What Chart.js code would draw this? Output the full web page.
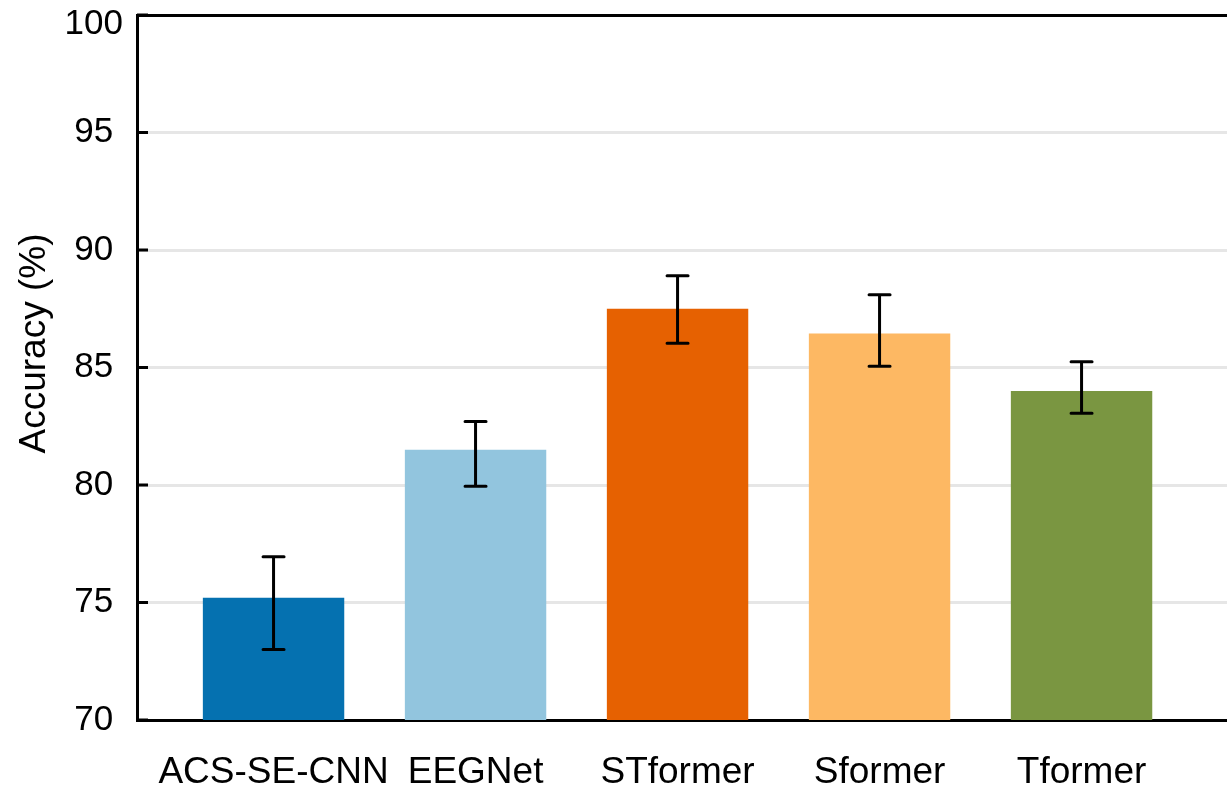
<!DOCTYPE html>
<html>
<head>
<meta charset="utf-8">
<script src="https://cdn.jsdelivr.net/npm/chart.js@4/dist/chart.umd.min.js"></script>
<style>
  html, body { margin: 0; padding: 0; background: #fff; }
  #wrap { width: 1227px; height: 792px; }
</style>
</head>
<body>
<div id="wrap"><canvas id="c" width="1227" height="792"></canvas></div>
<script>
// Model names along the x axis
const categories = ['ACS-SE-CNN', 'EEGNet', 'STformer', 'Sformer', 'Tformer'];
// Mean accuracy (%) per model
const accuracy = [75.2, 81.5, 87.5, 86.45, 84.0];
// Error bar ends (%)
const errLow  = [73.0, 79.95, 86.03, 85.05, 83.05];
const errHigh = [76.95, 82.7, 88.9, 88.1, 85.25];
// Bar fills
const barColors = ['#0571b0', '#92c5de', '#e66101', '#fdb863', '#7a9641'];
// Y axis tick values
const yTicks = [70, 75, 80, 85, 90, 95, 100];
const yTitle = 'Accuracy (%)';

const FONT = 'Liberation Sans, Arial, Helvetica, sans-serif';
const Y_MAX = yTicks[yTicks.length - 1];

// Error bars with flat caps, drawn on top of the bars
const errorBars = {
  id: 'errorBars',
  afterDatasetsDraw(chart) {
    const { ctx, scales: { x, y } } = chart;
    ctx.save();
    ctx.strokeStyle = '#000';
    ctx.lineWidth = 3;
    ctx.lineCap = 'round';
    const cap = 10.5;
    categories.forEach((_, i) => {
      const px = x.getPixelForValue(i + 1);
      const lo = y.getPixelForValue(errLow[i]);
      const hi = y.getPixelForValue(errHigh[i]);
      ctx.beginPath();
      ctx.moveTo(px, lo); ctx.lineTo(px, hi);
      ctx.moveTo(px - cap, lo); ctx.lineTo(px + cap, lo);
      ctx.moveTo(px - cap, hi); ctx.lineTo(px + cap, hi);
      ctx.stroke();
    });
    ctx.restore();
  }
};

// Inward tick marks on the y axis, plus the rotated axis title
const yAxisDecor = {
  id: 'yAxisDecor',
  afterDraw(chart) {
    const { ctx, chartArea, scales: { y } } = chart;
    ctx.save();
    ctx.strokeStyle = '#000';
    ctx.lineWidth = 3;
    yTicks.forEach(v => {
      const py = y.getPixelForValue(v);
      ctx.beginPath();
      ctx.moveTo(chartArea.left, py);
      ctx.lineTo(chartArea.left + 11, py);
      ctx.stroke();
    });
    ctx.translate(34.5, (chartArea.top + chartArea.bottom) / 2 - 24);
    ctx.rotate(-Math.PI / 2);
    ctx.fillStyle = '#000';
    ctx.font = '37px ' + FONT;
    ctx.textAlign = 'center';
    ctx.textBaseline = 'middle';
    ctx.fillText(yTitle, 0, 0);
    ctx.restore();
  }
};

new Chart(document.getElementById('c'), {
  type: 'bar',
  data: {
    datasets: [{
      data: categories.map((_, i) => ({ x: i + 1, y: accuracy[i] })),
      backgroundColor: barColors,
      borderWidth: 0,
      barPercentage: 0.7,
      categoryPercentage: 1.0
    }]
  },
  options: {
    responsive: false,
    animation: false,
    devicePixelRatio: 1,
    layout: { padding: { top: 15, left: 0, right: 0, bottom: 0 } },
    plugins: { legend: { display: false }, tooltip: { enabled: false } },
    scales: {
      x: {
        type: 'linear',
        offset: false,
        min: 0.324,
        max: 5.72,
        afterBuildTicks(scale) {
          scale.ticks = categories.map((_, i) => ({ value: i + 1 }));
        },
        afterFit(scale) {
          scale.height = 72;
          scale.paddingLeft = 0;
          scale.paddingRight = 0;
        },
        ticks: {
          autoSkip: false,
          maxRotation: 0,
          padding: 23,
          color: '#000',
          font: { family: FONT, size: 37 },
          callback: (v) => categories[v - 1]
        },
        grid: { display: false },
        border: { display: true, color: '#000', width: 3 }
      },
      y: {
        min: 70,
        max: 100,
        afterBuildTicks(scale) {
          scale.ticks = yTicks.map(v => ({ value: v }));
        },
        afterFit(scale) {
          scale.width = 137;
          scale.paddingTop = 0;
          scale.paddingBottom = 0;
        },
        ticks: {
          crossAlign: 'center',
          padding: 14,
          color: '#000',
          // the top label sits a little below the frame line
          callback: (v) => v === Y_MAX ? ['', String(v)] : String(v),
          font: (c) => ({
            family: FONT,
            size: 35,
            lineHeight: (c.tick && c.tick.value === Y_MAX) ? 0.52 : 1.2
          })
        },
        grid: {
          color: (c) => (c.tick && (c.tick.value === 100 || c.tick.value === 70)) ? '#000' : '#e6e6e6',
          lineWidth: 3,
          drawTicks: false
        },
        border: { display: true, color: '#000', width: 3 }
      }
    }
  },
  plugins: [errorBars, yAxisDecor]
});
</script>
</body>
</html>
